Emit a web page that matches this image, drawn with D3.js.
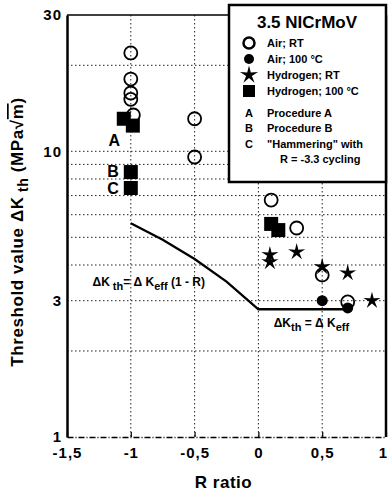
<!DOCTYPE html>
<html>
<head>
<meta charset="utf-8">
<script src="https://cdn.jsdelivr.net/npm/d3@7"></script>
<style>
  body { margin: 0; background: #fff; }
  text { font-family: "Liberation Sans", Arial, sans-serif; fill: #000; }
  .grid line { stroke: #222; stroke-width: 1; stroke-dasharray: 1.5,2.5; }
  .axis text { font-weight: bold; font-size: 15px; letter-spacing: 1px; }
</style>
</head>
<body>
<script>
// values
var xTicks = [-1.5, -1, -0.5, 0, 0.5, 1];
var yTicks = [1, 3, 10, 30];
var xGrid = [-1, -0.5, 0, 0.5];
var yGrid = [2, 3, 4, 5, 6, 7, 8, 9, 10, 20];

// [R, dKth]
var airRT = [[-1, 22.1], [-1, 17.9], [-1, 16.0], [-1, 15.2], [-0.98, 13.4],
             [-0.5, 13.0], [-0.5, 9.55], [0.1, 6.75], [0.3, 5.39], [0.5, 3.69], [0.7, 2.97]];
var air100 = [[0.5, 3.0], [0.7, 2.83]];
var hydRT = [[0.09, 4.1], [0.09, 4.34], [0.3, 4.44], [0.5, 3.94], [0.7, 3.75], [0.89, 3.0]];
var hyd100 = [[-1.055, 13.0], [-0.984, 12.3], [-1, 8.46], [-1, 7.44], [0.1, 5.57], [0.156, 5.3]];

// dKth = dKeff(1-R) and dKth = dKeff
var limitR = [-1, -0.75, -0.5, -0.25, 0, 0.7];
var limitK = [5.6, 4.9, 4.2, 3.5, 2.8, 2.8];

var procLabels = [["A", -1.13, 10.9], ["B", -1.14, 8.5], ["C", -1.14, 7.4]];

var margin = {top: 15, right: 3, bottom: 56, left: 67},
    width = 389 - margin.left - margin.right,
    height = 493 - margin.top - margin.bottom;

var svg = d3.select("body").append("svg")
    .attr("width", 389)
    .attr("height", 493)
  .append("g")
    .attr("transform", "translate(" + margin.left + "," + margin.top + ")");

var x = d3.scaleLinear()
    .domain([-1.5, 1])
    .range([0, width]);

var y = d3.scaleLog()
    .domain([1, 30])
    .range([height, 0]);

// grid
svg.append("g")
    .attr("class", "grid")
  .selectAll("line.h")
    .data(yGrid)
  .enter().append("line")
    .attr("x1", 0).attr("x2", width)
    .attr("y1", function(d) { return y(d); })
    .attr("y2", function(d) { return y(d); });

svg.append("g")
    .attr("class", "grid")
  .selectAll("line.v")
    .data(xGrid)
  .enter().append("line")
    .attr("y1", 0).attr("y2", height)
    .attr("x1", function(d) { return x(d); })
    .attr("x2", function(d) { return x(d); });

// frame
svg.append("line")
    .attr("x1", 0).attr("x2", width).attr("y1", 0).attr("y2", 0)
    .attr("stroke", "#000").attr("stroke-width", 1.5);
svg.append("line")
    .attr("x1", width).attr("x2", width).attr("y1", 0).attr("y2", height)
    .attr("stroke", "#000").attr("stroke-width", 2.5);

var xAxis = d3.axisBottom(x)
    .tickValues(xTicks)
    .tickSizeInner(-5)
    .tickSizeOuter(0)
    .tickPadding(10)
    .tickFormat(function(d) { return String(d).replace(".", ","); });

var yAxis = d3.axisLeft(y)
    .tickValues(yTicks)
    .tickSize(0)
    .tickPadding(5)
    .tickFormat(d3.format("d"));

svg.append("g")
    .attr("class", "x axis")
    .attr("transform", "translate(0," + height + ")")
    .call(xAxis)
    .call(function(g) {
      g.select(".domain").attr("stroke-width", 1.3).attr("stroke-dasharray", "6,2,1,2");
      g.selectAll(".tick line").attr("stroke-width", 1.2);
      g.selectAll(".tick text").filter(function(d) { return d === 1; }).attr("dx", -3);
    });

svg.append("g")
    .attr("class", "y axis")
    .call(yAxis)
    .call(function(g) { g.select(".domain").attr("stroke-width", 2.5); });

svg.append("text")
    .attr("x", width / 2 - 3)
    .attr("y", height + 51)
    .attr("text-anchor", "middle")
    .style("font-weight", "bold")
    .style("font-size", "17px")
    .style("letter-spacing", "0.5px")
    .text("R ratio");

var yl = svg.append("text")
    .attr("transform", "translate(" + (-44) + "," + (height / 2 + 6) + ") rotate(-90)")
    .attr("text-anchor", "middle")
    .style("font-weight", "bold")
    .style("font-size", "17px")
    .style("letter-spacing", "0.6px");
yl.append("tspan").text("Threshold value  \u0394K");
yl.append("tspan").attr("dy", 5).style("font-size", "14px").text(" th");
yl.append("tspan").attr("dy", -5).text(" (MPa\u221A");
yl.append("tspan").style("text-decoration", "overline").text("m");
yl.append("tspan").text(")");

// limit line
var line = d3.line()
    .x(function(d, i) { return x(limitR[i]); })
    .y(function(d) { return y(d); });

svg.append("path")
    .datum(limitK)
    .attr("fill", "none")
    .attr("stroke", "#000")
    .attr("stroke-width", 2.3)
    .attr("d", line);

var t1 = svg.append("text")
    .attr("x", x(-1.3)).attr("y", y(3.5) + 4)
    .style("font-size", "12px").style("font-weight", "bold");
t1.append("tspan").text("\u0394K");
t1.append("tspan").attr("dy", 4).style("font-size", "11px").text(" th");
t1.append("tspan").attr("dy", -4).text("= \u0394 K");
t1.append("tspan").attr("dy", 4).style("font-size", "11px").text("eff");
t1.append("tspan").attr("dy", -4).text(" (1 - R)");

var t2 = svg.append("text")
    .attr("x", x(0.12)).attr("y", y(2.42))
    .style("font-size", "12px").style("font-weight", "bold");
t2.append("tspan").text("\u0394K");
t2.append("tspan").attr("dy", 4).style("font-size", "11px").text("th");
t2.append("tspan").attr("dy", -4).text(" = \u0394 K");
t2.append("tspan").attr("dy", 4).style("font-size", "11px").text("eff");

svg.selectAll(".proc")
    .data(procLabels)
  .enter().append("text")
    .attr("class", "proc")
    .attr("x", function(d) { return x(d[1]); })
    .attr("y", function(d) { return y(d[2]); })
    .attr("dy", "0.36em")
    .attr("text-anchor", "middle")
    .style("font-weight", "bold")
    .style("font-size", "16px")
    .text(function(d) { return d[0]; });

// custom thin star
var thinStar = {
  draw: function(context, size) {
    var r = Math.sqrt(size), ri = r * 0.32;
    for (var i = 0; i < 10; i++) {
      var a = i * Math.PI / 5 - Math.PI / 2, rr = i % 2 ? ri : r;
      if (i === 0) context.moveTo(rr * Math.cos(a), rr * Math.sin(a));
      else context.lineTo(rr * Math.cos(a), rr * Math.sin(a));
    }
    context.closePath();
  }
};

function tr(d) { return "translate(" + x(d[0]) + "," + y(d[1]) + ")"; }

svg.selectAll(".airRT")
    .data(airRT)
  .enter().append("circle")
    .attr("class", "airRT")
    .attr("cx", function(d) { return x(d[0]); })
    .attr("cy", function(d) { return y(d[1]); })
    .attr("r", 6.5)
    .attr("fill", "none")
    .attr("stroke", "#000")
    .attr("stroke-width", 1.8);

svg.selectAll(".hyd100")
    .data(hyd100)
  .enter().append("rect")
    .attr("class", "hyd100")
    .attr("x", function(d) { return x(d[0]) - 7; })
    .attr("y", function(d) { return y(d[1]) - 7; })
    .attr("width", 14).attr("height", 14)
    .attr("fill", "#000");

svg.selectAll(".air100")
    .data(air100)
  .enter().append("circle")
    .attr("class", "air100")
    .attr("cx", function(d) { return x(d[0]); })
    .attr("cy", function(d) { return y(d[1]); })
    .attr("r", 5.5)
    .attr("fill", "#000");

svg.selectAll(".hydRT")
    .data(hydRT)
  .enter().append("path")
    .attr("class", "hydRT")
    .attr("transform", tr)
    .attr("d", d3.symbol().type(thinStar).size(81))
    .attr("fill", "#000");

// legend
var lg = svg.append("g")
    .attr("transform", "translate(" + (229 - margin.left) + "," + (5 - margin.top) + ")");

lg.append("rect")
    .attr("width", 157).attr("height", 177)
    .attr("fill", "#fff")
    .attr("stroke", "#000")
    .attr("stroke-width", 2.5);

lg.append("text")
    .attr("x", 78).attr("y", 23)
    .attr("text-anchor", "middle")
    .style("font-weight", "bold")
    .style("font-size", "17px")
    .text("3.5 NICrMoV");

var legendNames = ["Air; RT", "Air; 100 \u00B0C", "Hydrogen; RT", "Hydrogen; 100 \u00B0C"];
var procNames = [["A", "Procedure A"], ["B", "Procedure B"], ["C", "\"Hammering\" with"], ["", "R = -3.3 cycling"]];

var rows = lg.selectAll(".row")
    .data(legendNames)
  .enter().append("g")
    .attr("transform", function(d, i) { return "translate(20," + (38 + i * 16) + ")"; });

rows.append("text")
    .attr("x", 18).attr("dy", "0.35em")
    .style("font-size", "11px").style("font-weight", "bold")
    .text(function(d) { return d; });

rows.filter(function(d, i) { return i === 0; }).append("circle")
    .attr("r", 5.5).attr("fill", "none").attr("stroke", "#000").attr("stroke-width", 2.5);
rows.filter(function(d, i) { return i === 1; }).append("circle")
    .attr("r", 5).attr("fill", "#000");
rows.filter(function(d, i) { return i === 2; }).append("path")
    .attr("d", d3.symbol().type(thinStar).size(90)).attr("fill", "#000");
rows.filter(function(d, i) { return i === 3; }).append("rect")
    .attr("x", -6).attr("y", -6).attr("width", 12).attr("height", 12).attr("fill", "#000");

var prow = lg.selectAll(".prow")
    .data(procNames)
  .enter().append("g")
    .attr("transform", function(d, i) { return "translate(20," + (108 + i * 15.5) + ")"; });

prow.append("text")
    .attr("text-anchor", "middle").attr("dy", "0.35em")
    .style("font-size", "11px").style("font-weight", "bold")
    .text(function(d) { return d[0]; });
prow.append("text")
    .attr("x", function(d, i) { return i === 3 ? 31 : 18; }).attr("dy", "0.35em")
    .style("font-size", "11px").style("font-weight", "bold")
    .text(function(d) { return d[1]; });
</script>
</body>
</html>
